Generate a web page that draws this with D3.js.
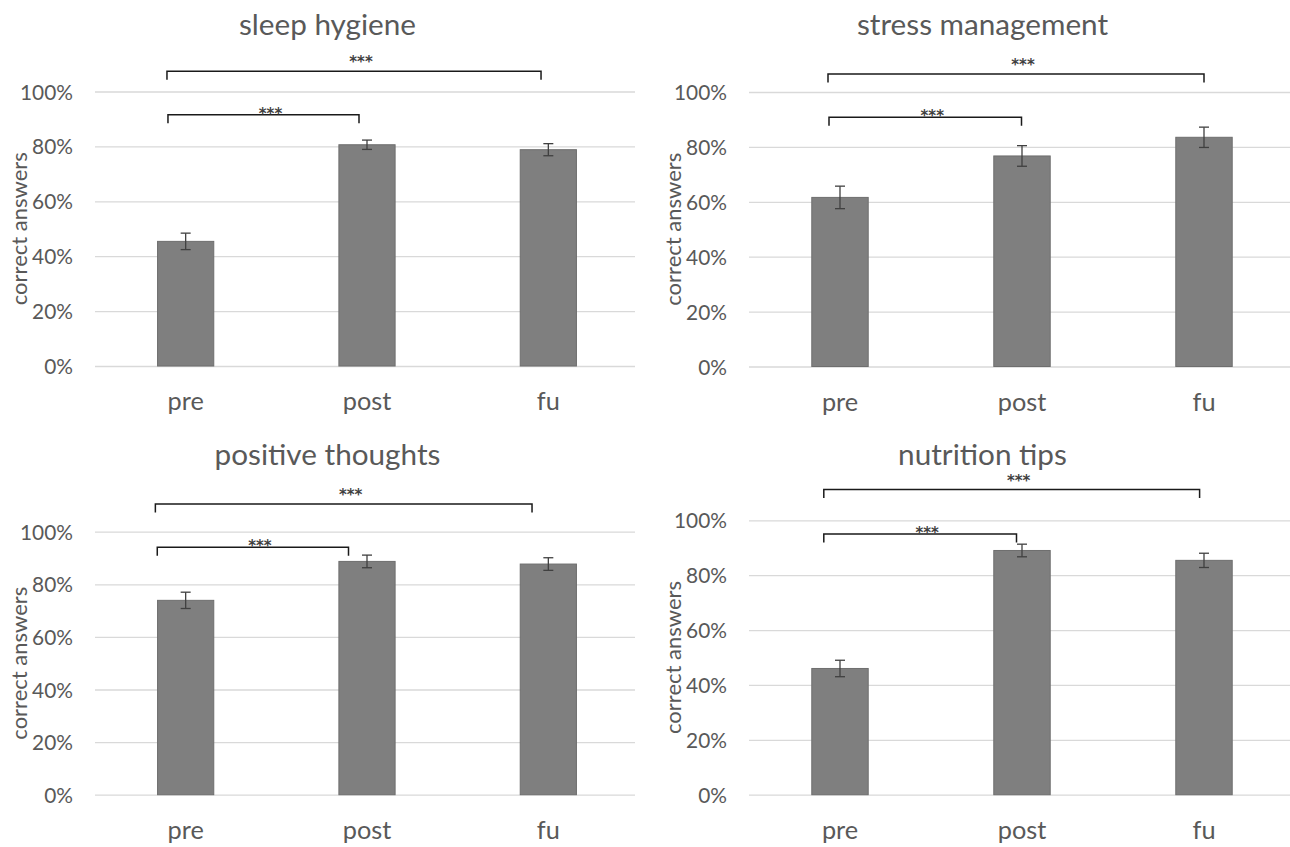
<!DOCTYPE html>
<html>
<head>
<meta charset="utf-8">
<script src="https://cdn.jsdelivr.net/npm/d3@7"></script>
<style>
  html, body { margin: 0; padding: 0; background: #ffffff; }
  svg { display: block; }
</style>
</head>
<body>
<svg id="chart" width="1290" height="847"></svg>
<script>
// ---------------- DATA ----------------
const categories = ["pre", "post", "fu"];
const panelTitles = ["sleep hygiene", "stress management", "positive thoughts", "nutrition tips"];
const yTicks = [0, 20, 40, 60, 80, 100];
const yAxisTitle = "correct answers";
const sigLabel = "***";

const sleepMeans = [45.4, 80.6, 78.8];
const sleepErrors = [3.0, 1.7, 2.2];
const stressMeans = [61.6, 76.7, 83.5];
const stressErrors = [4.1, 3.75, 3.7];
const positiveMeans = [73.9, 88.7, 87.7];
const positiveErrors = [3.1, 2.4, 2.4];
const nutritionMeans = [46.0, 89.0, 85.4];
const nutritionErrors = [3.0, 2.3, 2.6];

// significance brackets: category indices and level (in % of y axis)
const sleepBrackets = [{ from: 0, to: 1, level: 91.5 }, { from: 0, to: 2, level: 107.4 }];
const stressBrackets = [{ from: 0, to: 1, level: 90.8 }, { from: 0, to: 2, level: 106.6 }];
const positiveBrackets = [{ from: 0, to: 1, level: 94.1 }, { from: 0, to: 2, level: 110.5 }];
const nutritionBrackets = [{ from: 0, to: 1, level: 95.0 }, { from: 0, to: 2, level: 111.2 }];

const panelMeans = [sleepMeans, stressMeans, positiveMeans, nutritionMeans];
const panelErrors = [sleepErrors, stressErrors, positiveErrors, nutritionErrors];
const panelBrackets = [sleepBrackets, stressBrackets, positiveBrackets, nutritionBrackets];

// ---------------- LAYOUT / STYLE ----------------
const FONT = "Lato, 'Open Sans', sans-serif";
const TEXT = "#595959";
const layout = [
  { x0: 95,  x1: 639,  yZero: 366,   yTop: 91.5,  titleY: 35,
    br: [{ l: -17.7, r: -8 }, { l: -18.7, r: -7.3 }] },
  { x0: 749, x1: 1295, yZero: 366.5, yTop: 92,    titleY: 35,
    br: [{ l: -11, r: -0.5 }, { l: -12, r: 0 }] },
  { x0: 95,  x1: 639,  yZero: 794.7, yTop: 531.7, titleY: 464.7,
    br: [{ l: -28.4, r: -18.5 }, { l: -30.3, r: -16.3 }] },
  { x0: 749, x1: 1295, yZero: 794.7, yTop: 520.3, titleY: 464.7,
    br: [{ l: -16.2, r: -5.5 }, { l: -16.2, r: -4.4 }] }
];

const svg = d3.select("#chart");

function fitSize(str, target, family, weight) {
  const t = svg.append("text").attr("font-family", family || FONT)
    .attr("font-weight", weight || "normal").attr("font-size", 100).text(str);
  const w = t.node().getComputedTextLength();
  t.remove();
  return 100 * target / w;
}
const STAR_FONT = "'DejaVu Sans', sans-serif";
const titleSize = (fitSize("sleep hygiene", 176) + fitSize("stress management", 253)) / 2;
const tickSize = fitSize("100%", 53);
const catSize = (fitSize("post", 47.6) + fitSize("pre", 37)) / 2;
const axisTitleSize = fitSize("correct answers", 153);
const starSize = fitSize(sigLabel, 23.5, STAR_FONT, "bold");

panelTitles.forEach((title, p) => {
  const L = layout[p];
  const g = svg.append("g");

  const x = d3.scaleBand().domain(categories).range([L.x0, L.x1])
    .paddingInner(0.69).paddingOuter(0.345);
  const y = d3.scaleLinear().domain([0, 100]).range([L.yZero, L.yTop]);
  const cx = c => x(c) + x.bandwidth() / 2;

  // gridlines via axis
  const yAxis = d3.axisLeft(y).tickValues(yTicks)
    .tickSize(-(L.x1 - L.x0 - 4)).tickFormat(d => d + "%").tickPadding(22);
  const ag = g.append("g").attr("transform", `translate(${L.x0},0)`).call(yAxis);
  ag.select(".domain").remove();
  ag.selectAll(".tick line").attr("stroke", "#d9d9d9").attr("stroke-width", 1.3);
  ag.selectAll(".tick text")
    .attr("font-family", FONT).attr("font-size", tickSize).attr("fill", TEXT)
    .attr("dy", "0.36em");

  // x axis labels
  const xAxis = d3.axisBottom(x).tickSize(0).tickPadding(0);
  const xg = g.append("g").attr("transform", `translate(0,${L.yZero})`).call(xAxis);
  xg.select(".domain").remove();
  xg.selectAll(".tick text")
    .attr("font-family", FONT).attr("font-size", catSize).attr("fill", TEXT)
    .attr("dy", 0).attr("y", 44);

  const means = panelMeans[p], errs = panelErrors[p];
  const data = categories.map((c, i) => ({ c, v: means[i], e: errs[i] }));

  // bars
  g.selectAll("rect.bar").data(data).enter().append("rect")
    .attr("class", "bar")
    .attr("x", d => x(d.c)).attr("width", x.bandwidth())
    .attr("y", d => y(d.v)).attr("height", d => y(0) - y(d.v))
    .attr("fill", "#7f7f7f").attr("stroke", "#6e6e6e").attr("stroke-width", 1);

  // error bars
  const eg = g.selectAll("g.err").data(data).enter().append("g").attr("class", "err")
    .attr("stroke", "#404040").attr("stroke-width", 1.3).attr("fill", "none");
  eg.append("line").attr("x1", d => cx(d.c)).attr("x2", d => cx(d.c))
    .attr("y1", d => y(d.v - d.e)).attr("y2", d => y(d.v + d.e));
  eg.append("line").attr("x1", d => cx(d.c) - 5).attr("x2", d => cx(d.c) + 5)
    .attr("y1", d => y(d.v + d.e)).attr("y2", d => y(d.v + d.e));
  eg.append("line").attr("x1", d => cx(d.c) - 5).attr("x2", d => cx(d.c) + 5)
    .attr("y1", d => y(d.v - d.e)).attr("y2", d => y(d.v - d.e));

  // significance brackets
  panelBrackets[p].forEach((b, k) => {
    const off = L.br[k];
    const xl = cx(categories[b.from]) + off.l;
    const xr = cx(categories[b.to]) + off.r;
    const yl = y(b.level);
    g.append("path")
      .attr("d", `M${xl},${yl + 8.5}V${yl}H${xr}V${yl + 8.5}`)
      .attr("fill", "none").attr("stroke", "#1a1a1a").attr("stroke-width", 1.5);
    const lift = (b.to - b.from) > 1 ? 12.7 : 5.2;
    g.append("text")
      .attr("x", (xl + xr) / 2 + 7)
      .attr("y", yl - lift + 0.6 * starSize)
      .attr("text-anchor", "middle")
      .attr("font-family", STAR_FONT).attr("font-weight", "bold")
      .attr("font-size", starSize).attr("fill", "#404040")
      .text(sigLabel);
  });

  // title
  g.append("text")
    .attr("x", (L.x0 + L.x1) / 2 - 39.5).attr("y", L.titleY)
    .attr("text-anchor", "middle")
    .attr("font-family", FONT).attr("font-size", titleSize).attr("fill", TEXT)
    .text(title);

  // y axis title
  g.append("text")
    .attr("transform", `translate(${L.x0 - 68},${(L.yZero + L.yTop) / 2}) rotate(-90)`)
    .attr("text-anchor", "middle")
    .attr("font-family", FONT).attr("font-size", axisTitleSize).attr("fill", TEXT)
    .text(yAxisTitle);
});
</script>
</body>
</html>
